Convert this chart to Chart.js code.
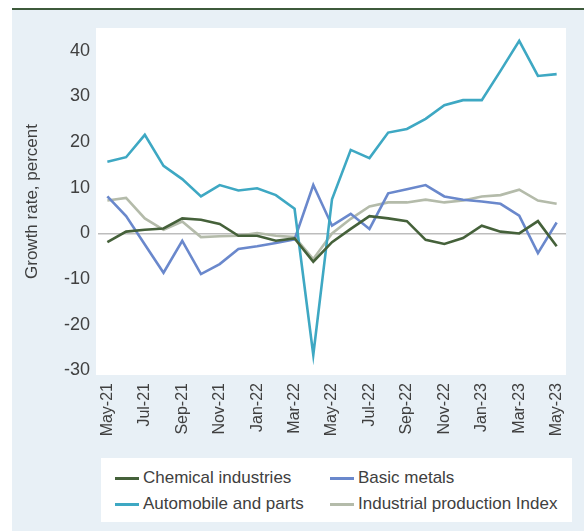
<!DOCTYPE html>
<html>
<head>
<meta charset="utf-8">
<script src="https://cdn.jsdelivr.net/npm/chart.js@4"></script>
<style>
  body { margin: 0; background: #fff; }
  #wrap { position: relative; width: 584px; height: 531px; }
  #legend {
    position: absolute; left: 101px; top: 458px; width: 471px; height: 64px;
    background: #fff; font-family: 'Liberation Sans', Arial, sans-serif;
    font-size: 17px; color: #404040;
  }
  .item { position: absolute; display: flex; align-items: center; height: 26px; white-space: nowrap; }
  .swatch { width: 24px; height: 3px; margin-right: 4px; }
</style>
</head>
<body>
<div id="wrap">
  <canvas id="chart" width="584" height="531"></canvas>
  <div id="legend"></div>
</div>
<script>
const months = ['May-21','Jun-21','Jul-21','Aug-21','Sep-21','Oct-21','Nov-21','Dec-21',
  'Jan-22','Feb-22','Mar-22','Apr-22','May-22','Jun-22','Jul-22','Aug-22','Sep-22','Oct-22',
  'Nov-22','Dec-22','Jan-23','Feb-23','Mar-23','Apr-23','May-23'];

const chemical = [-1.9, 0.4, 0.8, 1.1, 3.3, 3.0, 2.1, -0.5, -0.5, -1.6, -1.1, -6.2, -1.9, 1.0, 3.8,
  3.3, 2.7, -1.4, -2.3, -1.0, 1.7, 0.4, 0.0, 2.7, -2.8];
const automobile = [15.7, 16.7, 21.6, 14.8, 11.9, 8.1, 10.6, 9.4, 9.9, 8.4, 5.4, -26.6, 7.5, 18.3, 16.5,
  22.1, 22.9, 25.1, 28.1, 29.2, 29.2, 35.6, 42.2, 34.5, 34.9];
const basicMetals = [8.1, 3.8, -2.4, -8.6, -1.6, -8.9, -6.7, -3.4, -2.8, -2.1, -1.3, 10.6, 1.7, 4.3, 1.0,
  8.8, 9.7, 10.6, 8.1, 7.4, 7.0, 6.5, 3.9, -4.3, 2.4];
const industrialIndex = [7.2, 7.8, 3.3, 0.8, 2.6, -0.8, -0.6, -0.5, 0.1, -0.5, -0.8, -5.6, 0.0, 3.2, 5.9,
  6.8, 6.8, 7.4, 6.8, 7.2, 8.1, 8.4, 9.6, 7.2, 6.5];

const yTicks = [-30, -20, -10, 0, 10, 20, 30, 40];

const FONT = "'Liberation Sans', Arial, sans-serif";
const TEXT = '#404040';

const series = [
  { label: 'Chemical industries', data: chemical, color: '#45613a' },
  { label: 'Automobile and parts', data: automobile, color: '#3ea8c3' },
  { label: 'Basic metals', data: basicMetals, color: '#6a88cc' },
  { label: 'Industrial production Index', data: industrialIndex, color: '#b4bbaa' },
];

const backdrop = {
  id: 'backdrop',
  beforeDraw(chart) {
    const ctx = chart.ctx;
    const a = chart.chartArea;
    ctx.save();
    ctx.fillStyle = '#ffffff';
    ctx.fillRect(0, 0, chart.width, chart.height);
    ctx.fillStyle = '#e8f0f6';
    ctx.fillRect(12, 10, chart.width - 12, chart.height - 10);
    ctx.strokeStyle = '#3d5a3b';
    ctx.lineWidth = 2;
    ctx.beginPath();
    ctx.moveTo(12, 9);
    ctx.lineTo(chart.width, 9);
    ctx.stroke();
    ctx.fillStyle = '#ffffff';
    ctx.fillRect(a.left - 2, a.top, a.right - a.left + 2, a.bottom - a.top);
    ctx.restore();
  }
};

new Chart(document.getElementById('chart'), {
  type: 'line',
  data: {
    labels: months,
    datasets: series.map(s => ({
      label: s.label,
      data: s.data,
      borderColor: s.color,
      backgroundColor: s.color,
      borderWidth: 2.6,
      pointRadius: 0,
      tension: 0,
    })),
  },
  options: {
    responsive: false,
    animation: false,
    layout: { padding: { top: 28, right: 7, left: 0, bottom: 0 } },
    plugins: { legend: { display: false }, tooltip: { enabled: false } },
    scales: {
      x: {
        offset: true,
        grid: { display: false, drawTicks: false },
        border: { display: false },
        afterFit(scale) { scale.height = 156; },
        ticks: {
          autoSkip: false,
          minRotation: 90,
          maxRotation: 90,
          padding: 8,
          color: TEXT,
          font: { family: FONT, size: 16 },
          callback(value, index) { return index % 2 === 0 ? months[index] : ''; },
        },
      },
      y: {
        min: -31,
        max: 45,
        afterBuildTicks(scale) { scale.ticks = yTicks.map(v => ({ value: v })); },
        afterFit(scale) { scale.width = 98; },
        grid: {
          drawTicks: false,
          lineWidth: 1.5,
          color: ctx => (ctx.tick && ctx.tick.value === 0 ? '#bdbdbd' : 'rgba(0,0,0,0)'),
        },
        border: { display: false },
        ticks: {
          padding: 8,
          color: TEXT,
          font: { family: FONT, size: 18 },
        },
        title: {
          display: true,
          text: 'Growth rate, percent',
          color: TEXT,
          font: { family: FONT, size: 17 },
          padding: { top: 22, bottom: 0 },
        },
      },
    },
  },
  plugins: [backdrop],
});

// legend in two columns, as in the source figure
const legend = document.getElementById('legend');
const spots = [[14, 7], [14, 33], [229, 7], [229, 33]];
series.forEach((s, i) => {
  const el = document.createElement('div');
  el.className = 'item';
  el.style.left = spots[i][0] + 'px';
  el.style.top = spots[i][1] + 'px';
  el.innerHTML = '<span class="swatch" style="background:' + s.color + '"></span>' + s.label;
  legend.appendChild(el);
});
</script>
</body>
</html>
